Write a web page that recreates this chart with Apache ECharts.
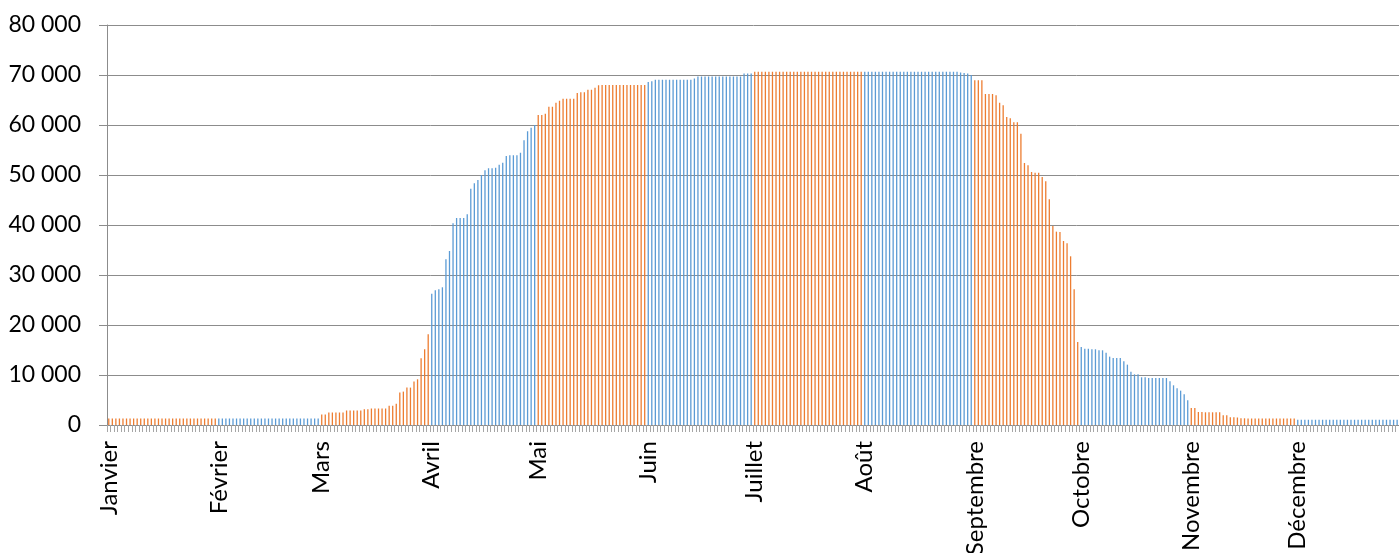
<!DOCTYPE html>
<html>
<head>
<meta charset="utf-8">
<script src="https://cdn.jsdelivr.net/npm/echarts@6/dist/echarts.min.js"></script>
<style>
    html, body { margin: 0; padding: 0; background: #fff; }
    #chart { width: 1399px; height: 553px; }
</style>
</head>
<body>
<div id="chart"></div>
<script>
// noms des mois (étiquettes de l'axe X)
const monthNames = ['Janvier', 'Février', 'Mars', 'Avril', 'Mai', 'Juin', 'Juillet', 'Août', 'Septembre', 'Octobre', 'Novembre', 'Décembre'];

// valeurs journalières, un tableau par mois (année bissextile)
const janvier = [1300, 1300, 1300, 1300, 1300, 1300, 1300, 1300, 1300, 1300, 1300, 1300, 1300, 1300, 1300, 1300, 1300, 1300, 1300, 1300, 1300, 1300, 1300, 1300, 1300, 1300, 1300, 1300, 1300, 1300, 1300];
const fevrier = [1300, 1300, 1300, 1300, 1300, 1300, 1300, 1300, 1300, 1300, 1300, 1300, 1300, 1300, 1300, 1300, 1300, 1300, 1300, 1300, 1300, 1300, 1300, 1300, 1300, 1300, 1300, 1300, 1300];
const mars = [2100, 2100, 2500, 2500, 2500, 2500, 2500, 2900, 2900, 2900, 2900, 2900, 3150, 3150, 3300, 3300, 3300, 3300, 3300, 3850, 3850, 4250, 6480, 6680, 7480, 7480, 8680, 9140, 13340, 15140, 18140];
const avril = [26270, 26940, 27140, 27540, 33140, 34800, 40340, 41400, 41400, 41400, 42140, 47270, 48340, 49000, 50000, 50940, 51340, 51340, 51470, 52070, 52470, 53800, 53940, 53940, 53940, 54470, 56940, 58740, 59470, 60000];
const mai = [62000, 62000, 62270, 63670, 63670, 64470, 64870, 65270, 65270, 65270, 65270, 66400, 66540, 66540, 67070, 67070, 67470, 67940, 68000, 68000, 68000, 68000, 68000, 68000, 68000, 68000, 68000, 68000, 68000, 68000, 68000];
const juin = [68600, 68740, 69070, 69070, 69070, 69070, 69070, 69070, 69070, 69070, 69070, 69070, 69070, 69300, 69700, 69700, 69700, 69700, 69700, 69700, 69700, 69700, 69700, 69700, 69700, 69700, 69700, 70300, 70300, 70300];
const juillet = [70660, 70660, 70660, 70660, 70660, 70660, 70660, 70660, 70660, 70660, 70660, 70660, 70660, 70660, 70660, 70660, 70660, 70660, 70660, 70660, 70660, 70660, 70660, 70660, 70660, 70660, 70660, 70660, 70660, 70660, 70660];
const aout = [70660, 70660, 70660, 70660, 70660, 70660, 70660, 70660, 70660, 70660, 70660, 70660, 70660, 70660, 70660, 70660, 70660, 70660, 70660, 70660, 70660, 70660, 70660, 70660, 70660, 70660, 70660, 70500, 70400, 70300, 70000];
const septembre = [68940, 68940, 68940, 66200, 66200, 66200, 65940, 64470, 63940, 61600, 61340, 60540, 60540, 58270, 52400, 51940, 50600, 50470, 50470, 49600, 48740, 45140, 39800, 38670, 38600, 36800, 36340, 33740, 27140, 16600];
const octobre = [15600, 15270, 15270, 15140, 15140, 14940, 14940, 14470, 13670, 13400, 13400, 13400, 12740, 12070, 10670, 10140, 10140, 9540, 9540, 9400, 9400, 9400, 9400, 9400, 9400, 8740, 7940, 7340, 6870, 6140, 4940];
const novembre = [3400, 3400, 2600, 2600, 2540, 2540, 2540, 2540, 2540, 1940, 1940, 1540, 1540, 1500, 1340, 1340, 1300, 1300, 1300, 1300, 1300, 1300, 1300, 1300, 1300, 1300, 1300, 1300, 1300, 1300];
const decembre = [1050, 1050, 1050, 1050, 1050, 1050, 1050, 1050, 1050, 1050, 1050, 1050, 1050, 1050, 1050, 1050, 1050, 1050, 1050, 1050, 1050, 1050, 1050, 1050, 1050, 1050, 1050, 1050, 1050, 1050, 1050];

const months = [janvier, fevrier, mars, avril, mai, juin, juillet, aout, septembre, octobre, novembre, decembre];

// axe Y
const yMin = 0;
const yMax = 80000;
const yStep = 10000;

// couleurs alternées par mois
const colors = ['#ED7D31', '#5B9BD5'];

const categories = [];
const values = [];
const monthOf = [];
const monthStarts = new Set();
months.forEach((days, m) => {
    monthStarts.add(categories.length);
    days.forEach((v, d) => {
        categories.push(monthNames[m] + '|' + (d + 1));
        values.push(v);
        monthOf.push(m);
    });
});

const fmt = v => String(v).replace(/\B(?=(\d{3})+(?!\d))/g, ' ');
const font = 'Lato';
const gray = '#8c8c8c';

const chart = echarts.init(document.getElementById('chart'));
chart.setOption({
    animation: false,
    grid: { left: 107, right: -7, top: 25, bottom: 128, containLabel: false, outerBoundsMode: 'none' },
    xAxis: {
        type: 'category',
        data: categories,
        axisLine: { lineStyle: { color: gray, width: 1 } },
        axisTick: { show: true, interval: 0, length: 7, lineStyle: { color: '#a6a6a6' } },
        axisLabel: {
            interval: (i) => monthStarts.has(i),
            formatter: v => v.split('|')[0],
            rotate: 90,
            margin: 16,
            color: '#000',
            fontFamily: font,
            fontSize: 24
        }
    },
    yAxis: {
        type: 'value',
        min: yMin,
        max: yMax,
        interval: yStep,
        axisLine: { show: true, lineStyle: { color: gray } },
        axisTick: { show: true, length: 8, lineStyle: { color: gray } },
        splitLine: { lineStyle: { color: gray, width: 1 } },
        axisLabel: { formatter: fmt, margin: 26, color: '#000', fontFamily: font, fontSize: 23 }
    },
    series: [{
        type: 'bar',
        data: values,
        barWidth: 1.3,
        itemStyle: { color: p => colors[monthOf[p.dataIndex] % 2] }
    }]
});
</script>
</body>
</html>
